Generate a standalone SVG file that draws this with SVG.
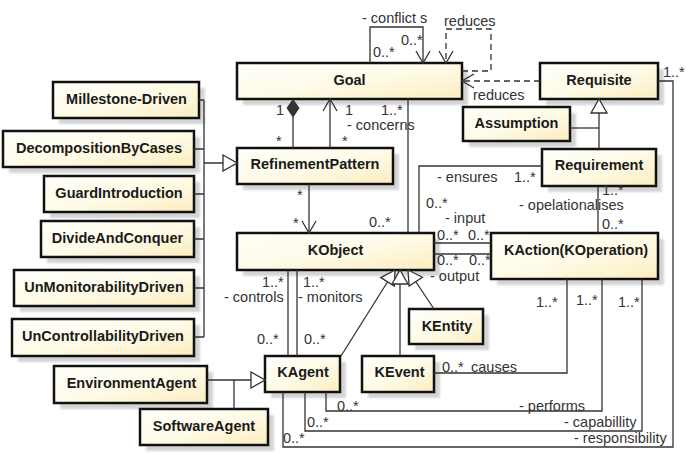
<svg xmlns="http://www.w3.org/2000/svg" width="686" height="454" viewBox="0 0 686 454">
<style>
.s{fill:#d4d4d4;filter:url(#blur)}
.b{fill:url(#g);stroke:#111;stroke-width:2.5}
.n{font-family:"Liberation Sans",Arial,sans-serif;font-weight:bold;font-size:14.5px;fill:#1a1a1a;text-anchor:middle}
.l{font-family:"Liberation Sans",Arial,sans-serif;font-size:14.5px;fill:#333}
.c{fill:none;stroke:#333;stroke-width:1.3}
.d{stroke-dasharray:6,4}
</style>
<defs>
<linearGradient id="g" x1="0" y1="0" x2="1" y2="1">
<stop offset="0" stop-color="#fffffb"/>
<stop offset="0.5" stop-color="#fefbe8"/>
<stop offset="1" stop-color="#fbedc0"/>
</linearGradient>
<filter id="blur" x="-10%" y="-20%" width="120%" height="140%"><feGaussianBlur stdDeviation="1.2"/></filter>
<marker id="open" viewBox="0 0 14 16" refX="13" refY="8" markerWidth="14" markerHeight="16" markerUnits="userSpaceOnUse" orient="auto">
<path d="M1,1 L13,8 L1,15" fill="none" stroke="#333" stroke-width="1.3"/>
</marker>
<marker id="tri" viewBox="0 0 16 18" refX="15" refY="9" markerWidth="16" markerHeight="18" markerUnits="userSpaceOnUse" orient="auto">
<path d="M1,1 L15,9 L1,17 Z" fill="#fff" stroke="#333" stroke-width="1.3"/>
</marker>
</defs>

<g id="Goal"><rect class="s" x="243" y="69" width="225" height="36"/><rect class="b" x="237" y="63" width="225" height="36"/><text class="n" x="349.5" y="85">Goal</text></g>
<g id="Requisite"><rect class="s" x="546" y="69" width="118" height="36"/><rect class="b" x="540" y="63" width="118" height="36"/><text class="n" x="599" y="85">Requisite</text></g>
<g id="Assumption"><rect class="s" x="469" y="113" width="107" height="34"/><rect class="b" x="463" y="107" width="107" height="34"/><text class="n" x="516.5" y="128">Assumption</text></g>
<g id="Requirement"><rect class="s" x="548" y="155" width="114" height="37"/><rect class="b" x="542" y="149" width="114" height="37"/><text class="n" x="599" y="170">Requirement</text></g>
<g id="MillestoneDriven"><rect class="s" x="59" y="88" width="146" height="36"/><rect class="b" x="53" y="82" width="146" height="36"/><text class="n" x="126.5" y="103.5">Millestone-Driven</text></g>
<g id="DecompositionByCases"><rect class="s" x="9" y="137" width="191" height="36"/><rect class="b" x="3" y="131" width="191" height="36"/><text class="n" x="99" y="152.5">DecompositionByCases</text></g>
<g id="GuardIntroduction"><rect class="s" x="50" y="182" width="150" height="36"/><rect class="b" x="44" y="176" width="150" height="36"/><text class="n" x="119" y="197.5">GuardIntroduction</text></g>
<g id="DivideAndConquer"><rect class="s" x="47" y="227" width="153" height="36"/><rect class="b" x="41" y="221" width="153" height="36"/><text class="n" x="117.5" y="242.5">DivideAndConquer</text></g>
<g id="UnMonitorabilityDriven"><rect class="s" x="20" y="276" width="180" height="36"/><rect class="b" x="14" y="270" width="180" height="36"/><text class="n" x="104" y="291.5">UnMonitorabilityDriven</text></g>
<g id="UnControllabilityDriven"><rect class="s" x="18" y="325" width="182" height="37"/><rect class="b" x="12" y="319" width="182" height="37"/><text class="n" x="103" y="340.5">UnControllabilityDriven</text></g>
<g id="RefinementPattern"><rect class="s" x="243" y="154" width="156" height="36"/><rect class="b" x="237" y="148" width="156" height="36"/><text class="n" x="315" y="169">RefinementPattern</text></g>
<g id="KObject"><rect class="s" x="243" y="239" width="197" height="37"/><rect class="b" x="237" y="233" width="197" height="37"/><text class="n" x="335.5" y="254.5">KObject</text></g>
<g id="KAction"><rect class="s" x="497" y="239" width="167" height="46"/><rect class="b" x="491" y="233" width="167" height="46"/><text class="n" x="576" y="255">KAction(KOperation)</text></g>
<g id="KEntity"><rect class="s" x="415" y="315" width="74" height="35"/><rect class="b" x="409" y="309" width="74" height="35"/><text class="n" x="447" y="331">KEntity</text></g>
<g id="KAgent"><rect class="s" x="271" y="362" width="75" height="36"/><rect class="b" x="265" y="356" width="75" height="36"/><text class="n" x="303" y="377">KAgent</text></g>
<g id="KEvent"><rect class="s" x="368" y="362" width="72" height="36"/><rect class="b" x="362" y="356" width="72" height="36"/><text class="n" x="399.5" y="377">KEvent</text></g>
<g id="EnvironmentAgent"><rect class="s" x="60" y="372" width="153" height="37"/><rect class="b" x="54" y="366" width="153" height="37"/><text class="n" x="131.5" y="387.5">EnvironmentAgent</text></g>
<g id="SoftwareAgent"><rect class="s" x="146" y="415" width="128" height="36"/><rect class="b" x="140" y="409" width="128" height="36"/><text class="n" x="204" y="430.5">SoftwareAgent</text></g>

<g id="connectors">
<path class="c" d="M370,63 V27 H423 V63" marker-end="url(#open)"/>
<path class="c d" d="M462,71 H491 V29 H446 V63" marker-end="url(#open)"/>
<path class="c d" d="M540,81 H462" marker-end="url(#open)"/>
<path class="c" d="M293,117 V148"/>
<polygon points="293,99.5 299,108 293,117 287,108" fill="#333" stroke="#333" stroke-width="1"/>
<path class="c" d="M330,148 V99" marker-end="url(#open)"/>
<path class="c" d="M408,99 V233"/>
<path class="c" d="M309,184 V233" marker-end="url(#open)"/>
<path class="c" d="M542,166 H419 V233"/>
<path class="c" d="M434,243 H491"/>
<path class="c" d="M434,254 H491"/>
<path class="c" d="M598,186 V233"/>
<path class="c" d="M658,81 H673 V447 H283 V392"/>
<path class="c" d="M642,279 V431 H305 V392"/>
<path class="c" d="M602,279 V411 H326 V392"/>
<path class="c" d="M567,279 V373 H434"/>
<path class="c" d="M288,356 V270"/>
<path class="c" d="M297,356 V270"/>
<path class="c" d="M341,356 L395,270" marker-end="url(#tri)"/>
<path class="c" d="M400,356 V270" marker-end="url(#tri)"/>
<path class="c" d="M434,309 L408,270" marker-end="url(#tri)"/>
<path class="c" d="M570,128 H599"/>
<path class="c" d="M599,149 V99" marker-end="url(#tri)"/>
<path class="c" d="M199,100 H204 M194,149 H204 M194,194 H204 M194,239 H204 M194,288 H204 M194,337 H204 M204,100 V337"/>
<path class="c" d="M204,163 H237" marker-end="url(#tri)"/>
<path class="c" d="M234,409 V380"/>
<path class="c" d="M207,380 H265" marker-end="url(#tri)"/>
</g>

<g id="labels">
<text class="l" x="362" y="23">- conflict s</text>
<text class="l" x="401" y="45">0..*</text>
<text class="l" x="373" y="57">0..*</text>
<text class="l" x="444" y="26">reduces</text>
<text class="l" x="473" y="100">reduces</text>
<text class="l" x="663" y="77">1..*</text>
<text class="l" x="276" y="115">1</text>
<text class="l" x="345" y="115">1</text>
<text class="l" x="381" y="115">1..*</text>
<text class="l" x="347" y="130">- concerns</text>
<text class="l" x="276" y="146">*</text>
<text class="l" x="342" y="146">*</text>
<text class="l" x="297" y="200">*</text>
<text class="l" x="293" y="228">*</text>
<text class="l" x="369" y="227">0..*</text>
<text class="l" x="437" y="182">- ensures</text>
<text class="l" x="514" y="182">1..*</text>
<text class="l" x="426" y="208">0..*</text>
<text class="l" x="445" y="223">- input</text>
<text class="l" x="437" y="240">0..*</text>
<text class="l" x="468" y="240">0..*</text>
<text class="l" x="519" y="210">- opelationalises</text>
<text class="l" x="602" y="195">1..*</text>
<text class="l" x="602" y="229">0..*</text>
<text class="l" x="437" y="265">0..*</text>
<text class="l" x="469" y="265">0..*</text>
<text class="l" x="430" y="281">- output</text>
<text class="l" x="262" y="287">1..*</text>
<text class="l" x="303" y="287">1..*</text>
<text class="l" x="224" y="302">- controls</text>
<text class="l" x="298" y="302">- monitors</text>
<text class="l" x="257" y="344">0..*</text>
<text class="l" x="304" y="344">0..*</text>
<text class="l" x="536" y="307">1..*</text>
<text class="l" x="576" y="305">1..*</text>
<text class="l" x="618" y="307">1..*</text>
<text class="l" x="442" y="372">0..*</text>
<text class="l" x="471" y="372">causes</text>
<text class="l" x="519" y="411">- performs</text>
<text class="l" x="337" y="411">0..*</text>
<text class="l" x="564" y="427">- capabillity</text>
<text class="l" x="307" y="427">0..*</text>
<text class="l" x="574" y="443">- responsibility</text>
<text class="l" x="283" y="443">0..*</text>
</g>
</svg>
